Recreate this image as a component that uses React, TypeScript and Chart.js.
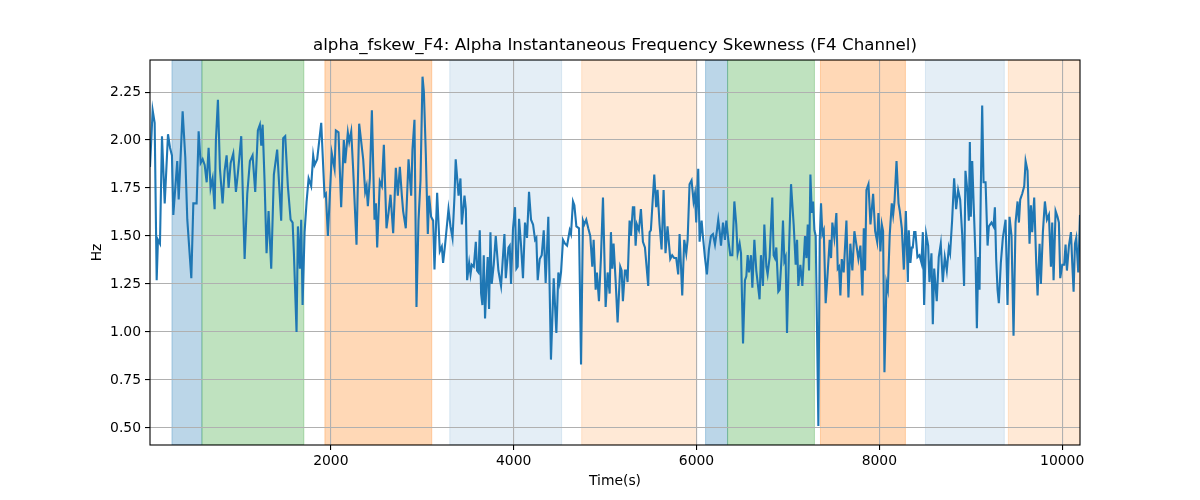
import React, { useEffect, useRef } from "react";
import { Chart, registerables } from "chart.js";

Chart.register(...registerables);

const TITLE = "alpha_fskew_F4: Alpha Instantaneous Frequency Skewness (F4 Channel)";
const X_LABEL = "Time(s)";
const Y_LABEL = "Hz";

const X_MIN = 22;
const X_MAX = 10195;
const Y_MIN = 0.411;
const Y_MAX = 2.417;
const xTicks = [2000, 4000, 6000, 8000, 10000];
const yTicks = [0.5, 0.75, 1.0, 1.25, 1.5, 1.75, 2.0, 2.25];

const spanStarts = [262, 590, 1935, 3301, 4744, 6099, 6340, 7356, 8504, 9411];
const spanEnds = [590, 1705, 3104, 4525, 6001, 6340, 7290, 8285, 9367, 10195];
const spanKinds = ["blue", "green", "orange", "lblue", "lorange", "blue", "green", "orange", "lblue", "lorange"];

const times = [
  22, 51, 73, 95, 109, 131, 153, 183, 219, 241, 262, 277, 320, 336, 379, 408, 430, 474, 496, 532,
  554, 576, 598, 620, 642, 663, 685, 707, 729, 743, 765, 787, 816, 838, 860, 882, 904, 933, 962, 984,
  1020, 1057, 1086, 1115, 1144, 1173, 1202, 1224, 1239, 1254, 1275, 1297, 1319, 1348, 1377, 1413, 1457, 1479, 1501, 1530,
  1560, 1582, 1596, 1625, 1640, 1661, 1676, 1691, 1713, 1735, 1757, 1785, 1807, 1822, 1851, 1895, 1931, 1946, 1968, 2011,
  2041, 2055, 2084, 2113, 2142, 2157, 2186, 2201, 2223, 2244, 2281, 2310, 2354, 2376, 2391, 2405, 2427, 2449, 2478, 2493,
  2507, 2536, 2558, 2580, 2609, 2631, 2653, 2682, 2711, 2733, 2755, 2777, 2791, 2820, 2850, 2879, 2893, 2915, 2937, 2959,
  2981, 3003, 3018, 3039, 3061, 3075, 3097, 3119, 3134, 3163, 3192, 3214, 3228, 3250, 3287, 3309, 3331, 3353, 3366, 3397,
  3418, 3433, 3462, 3477, 3491, 3513, 3528, 3542, 3564, 3586, 3600, 3615, 3629, 3644, 3658, 3673, 3687, 3702, 3716, 3731,
  3746, 3760, 3782, 3804, 3833, 3862, 3899, 3914, 3943, 3957, 3971, 3993, 4015, 4030, 4044, 4059, 4081, 4102, 4124, 4146,
  4168, 4190, 4212, 4234, 4248, 4263, 4285, 4307, 4329, 4350, 4379, 4408, 4438, 4467, 4489, 4503, 4518, 4540, 4562, 4584,
  4613, 4627, 4649, 4664, 4686, 4715, 4737, 4758, 4772, 4794, 4816, 4838, 4860, 4875, 4897, 4911, 4933, 4955, 4977, 5006,
  5028, 5050, 5064, 5079, 5093, 5115, 5137, 5166, 5181, 5195, 5217, 5232, 5246, 5268, 5283, 5304, 5319, 5334, 5348, 5370,
  5392, 5414, 5436, 5472, 5487, 5501, 5538, 5559, 5574, 5596, 5618, 5640, 5661, 5683, 5713, 5734, 5756, 5778, 5800, 5815,
  5844, 5866, 5888, 5903, 5924, 5946, 5968, 5983, 5997, 6019, 6034, 6056, 6070, 6092, 6114, 6136, 6158, 6180, 6202, 6224,
  6238, 6253, 6268, 6290, 6311, 6326, 6348, 6370, 6392, 6414, 6435, 6450, 6472, 6487, 6509, 6530, 6545, 6560, 6574, 6596,
  6611, 6633, 6654, 6690, 6705, 6727, 6742, 6764, 6778, 6800, 6829, 6844, 6858, 6873, 6895, 6910, 6931, 6946, 6961, 6975,
  6990, 7012, 7034, 7063, 7085, 7100, 7114, 7136, 7158, 7187, 7202, 7217, 7231, 7246, 7261, 7275, 7290, 7304, 7319, 7333,
  7348, 7362, 7377, 7392, 7413, 7435, 7457, 7472, 7486, 7508, 7530, 7545, 7559, 7574, 7589, 7610, 7640, 7662, 7683, 7705,
  7727, 7749, 7771, 7793, 7815, 7830, 7844, 7859, 7881, 7903, 7932, 7954, 7976, 7990, 8012, 8027, 8041, 8056, 8078, 8093,
  8114, 8136, 8151, 8166, 8188, 8210, 8224, 8246, 8268, 8290, 8312, 8322, 8340, 8355, 8366, 8381, 8395, 8417, 8439, 8461,
  8476, 8490, 8512, 8534, 8548, 8570, 8585, 8600, 8628, 8650, 8672, 8694, 8716, 8738, 8760, 8774, 8796, 8818, 8840, 8862,
  8884, 8906, 8927, 8942, 8964, 8979, 8990, 9001, 9016, 9030, 9052, 9067, 9082, 9096, 9111, 9125, 9140, 9162, 9184, 9198,
  9227, 9249, 9264, 9278, 9293, 9307, 9329, 9351, 9381, 9402, 9424, 9446, 9468, 9490, 9512, 9527, 9541, 9563, 9585, 9600,
  9621, 9643, 9658, 9672, 9694, 9716, 9731, 9753, 9767, 9789, 9811, 9833, 9855, 9877, 9891, 9906, 9928, 9949, 9964, 9979,
  10001, 10022, 10037, 10052, 10074, 10096, 10110, 10125, 10140, 10154, 10176, 10195,
];

const skew = [
  1.86, 2.155, 2.09, 1.27, 1.48, 1.46, 2.02, 1.67, 2.03, 1.96, 1.92, 1.61, 1.89, 1.69, 2.15, 1.91, 1.585, 1.28, 1.67, 1.67,
  2.045, 1.88, 1.9, 1.87, 1.78, 1.96, 1.75, 1.8, 1.64, 2.0, 2.21, 1.85, 1.67, 1.84, 1.92, 1.75, 1.88, 1.93, 1.73, 1.83,
  2.02, 1.38, 1.72, 1.89, 1.92, 1.73, 2.05, 2.08, 1.97, 2.08, 1.79, 1.41, 1.63, 1.33, 1.82, 1.95, 1.58, 2.01, 2.02, 1.76,
  1.585, 1.57, 1.41, 1.0, 1.55, 1.33, 1.585, 1.14, 1.52, 1.68, 1.8, 1.76, 1.92, 1.87, 1.9, 2.09, 1.71, 1.72, 1.5, 1.93,
  1.85, 2.05, 2.04, 1.65, 2.0, 1.88, 2.04, 1.99, 2.045, 1.85, 1.455, 2.085, 1.9, 1.73, 1.76, 1.655, 1.8, 2.155, 1.585, 1.67,
  1.44, 1.785, 1.76, 1.975, 1.54, 1.62, 1.715, 1.515, 1.855, 1.71, 1.86, 1.71, 1.63, 1.54, 1.9, 1.71, 1.95, 2.105, 1.13, 1.58,
  1.79, 2.33, 2.25, 1.93, 1.51, 1.71, 1.6, 1.58, 1.325, 1.725, 1.42, 1.445, 1.36, 1.455, 1.64, 1.55, 1.49, 1.71, 1.9, 1.71,
  1.8, 1.56, 1.71, 1.64, 1.27, 1.36, 1.3, 1.35, 1.34, 1.47, 1.32, 1.31, 1.53, 1.2, 1.14, 1.4, 1.07, 1.25, 1.39, 1.12,
  1.52, 1.25, 1.35, 1.5, 1.32, 1.24, 1.51, 1.28, 1.44, 1.45, 1.25, 1.54, 1.65, 1.33, 1.34, 1.59, 1.45, 1.28, 1.57, 1.49,
  1.73, 1.585, 1.56, 1.48, 1.49, 1.27, 1.38, 1.4, 1.53, 1.255, 1.6, 0.856, 1.28, 0.995, 1.31, 1.26, 1.31, 1.48, 1.46, 1.45,
  1.53, 1.51, 1.68, 1.66, 1.55, 1.54, 0.83, 1.58, 1.56, 1.585, 1.54, 1.5, 1.34, 1.48, 1.22, 1.31, 1.16, 1.39, 1.7, 1.13,
  1.31, 1.2, 1.52, 1.33, 1.46, 1.27, 1.05, 1.34, 1.32, 1.16, 1.32, 1.32, 1.26, 1.58, 1.5, 1.65, 1.65, 1.45, 1.56, 1.53,
  1.64, 1.47, 1.44, 1.24, 1.52, 1.53, 1.82, 1.65, 1.74, 1.56, 1.43, 1.74, 1.41, 1.55, 1.38, 1.4, 1.385, 1.385, 1.3, 1.51,
  1.19, 1.48, 1.41, 1.48, 1.77, 1.79, 1.68, 1.72, 1.57, 1.85, 1.47, 1.58, 1.5, 1.39, 1.3, 1.43, 1.5, 1.51, 1.455, 1.53,
  1.585, 1.525, 1.45, 1.57, 1.48, 1.58, 1.48, 1.4, 1.4, 1.68, 1.56, 1.41, 1.46, 1.41, 0.94, 1.27, 1.29, 1.4, 1.31, 1.4,
  1.23, 1.48, 1.32, 1.17, 1.4, 1.24, 1.56, 1.34, 1.3, 1.39, 1.7, 1.4, 1.385, 1.44, 1.21, 1.22, 1.39, 1.58, 1.37, 1.39,
  0.995, 1.43, 1.77, 1.56, 1.35, 1.48, 1.24, 1.35, 1.24, 1.5, 1.385, 1.56, 1.32, 1.82, 1.62, 1.68, 1.53, 1.5, 0.995, 0.51,
  1.48, 1.67, 1.51, 1.53, 1.15, 1.31, 1.48, 1.385, 1.57, 1.49, 1.62, 1.33, 1.34, 1.19, 1.38, 1.31, 1.58, 1.18, 1.46, 1.32,
  1.525, 1.455, 1.38, 1.45, 1.19, 1.54, 1.32, 1.74, 1.77, 1.56, 1.72, 1.525, 1.47, 1.62, 1.42, 1.56, 1.525, 0.79, 1.255, 1.22,
  1.51, 1.67, 1.61, 1.68, 1.89, 1.67, 1.63, 1.54, 1.325, 1.63, 1.26, 1.53, 1.36, 1.44, 1.44, 1.52, 1.52, 1.39, 1.4, 1.36,
  1.52, 1.14, 1.51, 1.45, 1.26, 1.41, 1.04, 1.33, 1.16, 1.39, 1.46, 1.26, 1.39, 1.32, 1.44, 1.41, 1.58, 1.8, 1.64, 1.74,
  1.69, 1.51, 1.24, 1.84, 1.73, 1.58, 1.99, 1.6, 1.89, 1.69, 1.39, 1.02, 1.39, 1.22, 1.78, 2.18, 1.78, 1.78, 1.45, 1.55,
  1.57, 1.55, 1.65, 1.38, 1.22, 1.15, 1.36, 1.49, 1.585, 1.14, 1.6, 1.5, 0.98, 1.57, 1.68, 1.57, 1.69, 1.72, 1.76, 1.89,
  1.84, 1.46, 1.66, 1.52, 1.7, 1.36, 1.19, 1.46, 1.25, 1.52, 1.68, 1.585, 1.61, 1.34, 1.57, 1.27, 1.63, 1.6, 1.57, 1.28,
  1.35, 1.35, 1.455, 1.32, 1.45, 1.52, 1.36, 1.21, 1.46, 1.49, 1.31, 1.61,
];

const SPAN_STYLE: Record<string, string> = {
  blue: "rgba(31,119,180,0.3)",
  green: "rgba(44,160,44,0.3)",
  orange: "rgba(255,127,14,0.3)",
  lblue: "rgba(31,119,180,0.12)",
  lorange: "rgba(255,127,14,0.17)",
};

const FONT = "'DejaVu Sans', sans-serif";

const decorPlugin = {
  id: "decor",
  beforeDraw(chart: any) {
    const { ctx, chartArea, scales } = chart;
    const x = scales.x;
    ctx.save();
    ctx.fillStyle = "#fff";
    ctx.fillRect(0, 0, chart.width, chart.height);
    ctx.beginPath();
    ctx.rect(chartArea.left, chartArea.top, chartArea.right - chartArea.left, chartArea.bottom - chartArea.top);
    ctx.clip();
    for (let i = 0; i < spanStarts.length; i++) {
      const x0 = x.getPixelForValue(spanStarts[i]);
      const x1 = x.getPixelForValue(spanEnds[i]);
      const c = SPAN_STYLE[spanKinds[i]];
      ctx.fillStyle = c;
      ctx.fillRect(x0, chartArea.top, x1 - x0, chartArea.bottom - chartArea.top);
      ctx.strokeStyle = c;
      ctx.lineWidth = 1;
      ctx.strokeRect(x0, chartArea.top, x1 - x0, chartArea.bottom - chartArea.top);
    }
    ctx.restore();
  },
  afterDraw(chart: any) {
    const { ctx, chartArea } = chart;
    ctx.save();
    ctx.strokeStyle = "#000";
    ctx.lineWidth = 1.1;
    ctx.strokeRect(chartArea.left, chartArea.top, chartArea.right - chartArea.left, chartArea.bottom - chartArea.top);
    const cx = (chartArea.left + chartArea.right) / 2;
    const cy = (chartArea.top + chartArea.bottom) / 2;
    ctx.fillStyle = "#000";
    ctx.textAlign = "center";
    ctx.textBaseline = "middle";
    ctx.font = `16.7px ${FONT}`;
    ctx.fillText(TITLE, cx, 46);
    ctx.font = `13.9px ${FONT}`;
    ctx.fillText(X_LABEL, cx, 481);
    ctx.translate(97, cy);
    ctx.rotate(-Math.PI / 2);
    ctx.fillText(Y_LABEL, 0, 0);
    ctx.restore();
  },
};

export default function App() {
  const canvasRef = useRef<HTMLCanvasElement | null>(null);

  useEffect(() => {
    document.body.style.margin = "0";
    const canvas = canvasRef.current;
    if (!canvas) return;
    const points = times.map((t, i) => ({ x: t, y: skew[i] }));
    const chart = new Chart(canvas, {
      type: "line",
      data: {
        datasets: [
          {
            data: points,
            borderColor: "#1f77b4",
            borderWidth: 2.1,
            pointRadius: 0,
            tension: 0,
            fill: false,
          },
        ],
      },
      options: {
        animation: false,
        responsive: false,
        maintainAspectRatio: false,
        devicePixelRatio: 1,
        layout: { padding: { left: 0, right: 120, top: 60, bottom: 0 } },
        plugins: {
          legend: { display: false },
          title: { display: false },
          tooltip: { enabled: false },
        },
        scales: {
          x: {
            type: "linear",
            min: X_MIN,
            max: X_MAX,
            afterBuildTicks: (s: any) => {
              s.ticks = xTicks.map((v) => ({ value: v }));
            },
            afterFit: (s: any) => {
              s.height = 55;
            },
            grid: { color: "#b0b0b0", lineWidth: 1.1, tickColor: "#000", tickLength: 5, drawTicks: true },
            border: { display: false },
            ticks: {
              color: "#000",
              font: { family: FONT, size: 13.9 },
              padding: 3,
              maxRotation: 0,
              autoSkip: false,
              callback: (v: any) => String(v),
            },
          },
          y: {
            type: "linear",
            min: Y_MIN,
            max: Y_MAX,
            afterBuildTicks: (s: any) => {
              s.ticks = yTicks.map((v) => ({ value: v }));
            },
            afterFit: (s: any) => {
              s.width = 150;
            },
            grid: { color: "#b0b0b0", lineWidth: 1.1, tickColor: "#000", tickLength: 5, drawTicks: true },
            border: { display: false },
            ticks: {
              color: "#000",
              font: { family: FONT, size: 13.9 },
              padding: 4,
              autoSkip: false,
              callback: (v: any) => Number(v).toFixed(2),
            },
          },
        },
      },
      plugins: [decorPlugin],
    });
    return () => chart.destroy();
  }, []);

  return (
    <div style={{ position: "absolute", left: 0, top: 0, width: 1200, height: 500, background: "#fff" }}>
      <canvas ref={canvasRef} width={1200} height={500} style={{ width: 1200, height: 500 }} />
    </div>
  );
}
